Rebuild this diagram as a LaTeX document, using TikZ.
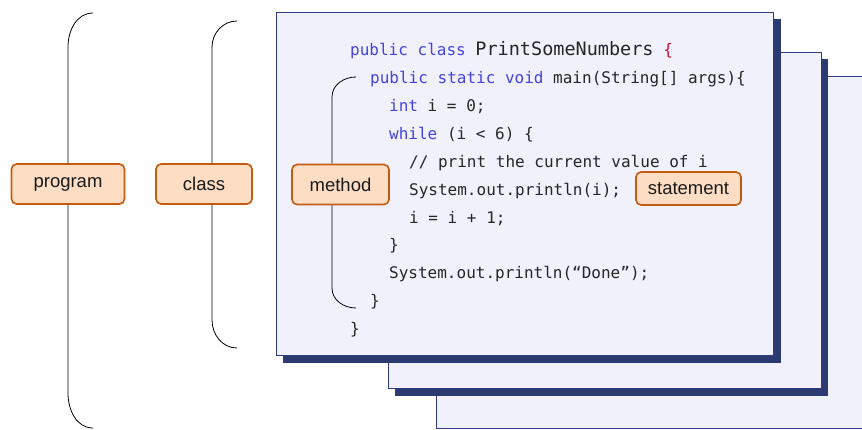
\documentclass[tikz,border=0pt]{standalone}
\usepackage{fontspec}
\setmainfont{Liberation Sans}
\setmonofont{DejaVu Sans Mono}
\definecolor{tagfill}{RGB}{253,222,197}
\definecolor{tagline}{RGB}{197,90,17}
\definecolor{cardfill}{RGB}{241,241,252}
\definecolor{cardline}{RGB}{46,60,126}
\definecolor{cardshade}{RGB}{43,58,112}
\definecolor{kw}{RGB}{68,68,221}
\definecolor{brk}{RGB}{204,17,51}

\begin{document}
\begin{tikzpicture}[x=1pt, y=-1pt,
    card/.style={draw=cardline, fill=cardfill, line width=0.9pt},
    shade/.style={fill=cardshade},
    tag/.style={draw=tagline, fill=tagfill, line width=1.6pt, rounded corners=5pt,
        minimum height=40pt, inner sep=0pt, text=black!90, font=\fontsize{18.5}{18.5}\selectfont},
    code/.style={anchor=base west, inner sep=0pt, text=black!85, font=\ttfamily\fontsize{16}{16}\selectfont},
    brace/.style={line width=0.8pt}]
        \useasboundingbox (0,0) rectangle (862,429);
        \clip (0,0) rectangle (862,429);
        % cards
        \draw[card] (436,76) rectangle (880,428);
        \fill[shade] (395,59) rectangle (828,396);
        \draw[card] (388,52) rectangle (821,388);
        \fill[shade] (283,19) rectangle (781,363);
        \draw[card] (276,12) rectangle (773,355);
        % code
        \node[code] (c1) at (350,55) {\textcolor{kw}{public class} {\fontsize{18.5}{18.5}\selectfont PrintSomeNumbers} \textcolor{brk}{\{}};
        \node[code] (c2) at (370,83) {\textcolor{kw}{public static void} main(String[] args)\{};
        \node[code] (c3) at (389,111) {\textcolor{kw}{int} i = 0;};
        \node[code] (c4) at (389,139) {\textcolor{kw}{while} (i < 6) \{};
        \node[code] (c5) at (409,167) {// print the current value of i};
        \node[code] (c6) at (409,195) {System.out.println(i);};
        \node[code] (c7) at (409,223) {i = i + 1;};
        \node[code] (c8) at (389,250) {\}};
        \node[code] (c9) at (389,278) {System.out.println(“Done”);};
        \node[code] (c10) at (370,306) {\}};
        \node[code] (c11) at (350,334) {\}};
        % labels
        \node[tag, minimum width=113pt] (prog) at (68,184) {program};
        \node[tag, minimum width=96pt] (cls) at (204,184) {class};
        \node[tag, minimum width=97pt] (meth) at (340.5,184.5) {method};
        \node[tag, minimum width=105pt, minimum height=33pt] (stmt) at (688.5,188.5) {statement};
        % braces
        \coordinate (pt) at (93,13);
        \coordinate (pb) at (93,428);
        \coordinate (ct) at (237,21);
        \coordinate (cb) at (237,348);
        \coordinate (mt) at (356,77);
        \coordinate (mb) at (356,308);
        \draw[brace] (pt) to[out=180,in=90] ++(-25,34) -- (prog.north);
        \draw[brace] (pb) to[out=180,in=-90] ++(-25,-35) -- (prog.south);
        \draw[brace] (ct) to[out=180,in=90] ++(-25,26) -- ([xshift=8pt]cls.north);
        \draw[brace] (cb) to[out=180,in=-90] ++(-25,-28) -- ([xshift=8pt]cls.south);
        \draw[brace] (mt) to[out=180,in=90] ++(-24,20) -- ([xshift=-8.5pt]meth.north);
        \draw[brace] (mb) to[out=180,in=-90] ++(-24,-20) -- ([xshift=-8.5pt]meth.south);
    \end{tikzpicture}
\end{document}
